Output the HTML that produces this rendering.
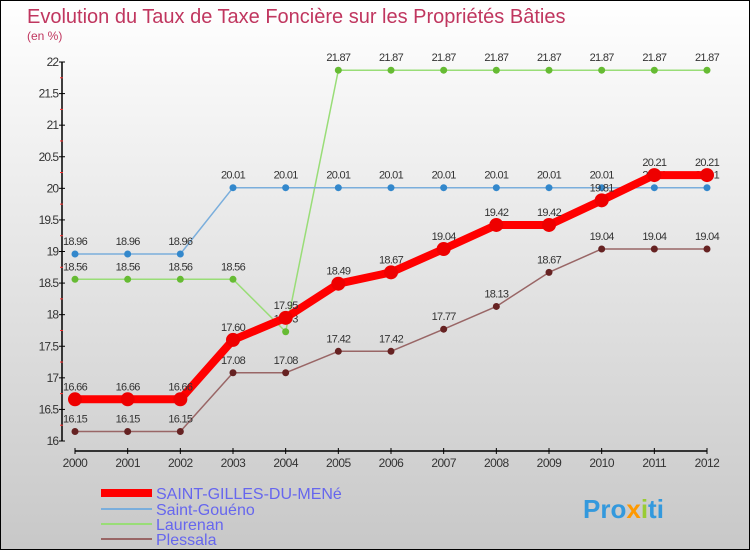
<!DOCTYPE html>
<html><head><meta charset="utf-8"><style>
html,body{margin:0;padding:0}
body{width:750px;height:550px;overflow:hidden;font-family:"Liberation Sans","DejaVu Sans",sans-serif}
#wrap{position:relative;width:748px;height:548px;border:1px solid #000;background:linear-gradient(#fff,#c8c8c8)}
</style></head><body>
<div id="wrap">
<svg id="chart" width="748" height="548" xmlns="http://www.w3.org/2000/svg">
<text x="26" y="22" font-size="20" fill="#c0365f">Evolution du Taux de Taxe Foncière sur les Propriétés Bâties</text>
<text x="26" y="39" font-size="12" fill="#c0365f">(en %)</text>
<g id="axes"></g><g id="series"></g>
<g>
<line x1="100" y1="492" x2="151" y2="492" stroke="#f00" stroke-width="8"/>
<text x="155" y="498" font-size="16" fill="#6666ee">SAINT-GILLES-DU-MENé</text>
<line x1="100" y1="508" x2="151" y2="508" stroke="#7aaedc" stroke-width="2"/>
<text x="155" y="514" font-size="16" fill="#6666ee">Saint-Gouéno</text>
<line x1="100" y1="523" x2="151" y2="523" stroke="#99dd77" stroke-width="2"/>
<text x="155" y="529" font-size="16" fill="#6666ee">Laurenan</text>
<line x1="100" y1="538" x2="151" y2="538" stroke="#996666" stroke-width="2"/>
<text x="155" y="544" font-size="16" fill="#6666ee">Plessala</text>
</g>
<text x="582" y="517" font-size="26" font-weight="bold" fill="#3399dd">Pro<tspan fill="#ff9900">x</tspan><tspan fill="#99cc33">i</tspan>ti</text>
</svg>
</div>
<script>
const years=[2000,2001,2002,2003,2004,2005,2006,2007,2008,2009,2010,2011,2012];
const yTicks=[16,16.5,17,17.5,18,18.5,19,19.5,20,20.5,21,21.5,22];
const saintGilles=[16.66,16.66,16.66,17.6,17.95,18.49,18.67,19.04,19.42,19.42,19.81,20.21,20.21];
const saintGoueno=[18.96,18.96,18.96,20.01,20.01,20.01,20.01,20.01,20.01,20.01,20.01,20.01,20.01];
const laurenan=[18.56,18.56,18.56,18.56,17.73,21.87,21.87,21.87,21.87,21.87,21.87,21.87,21.87];
const plessala=[16.15,16.15,16.15,17.08,17.08,17.42,17.42,17.77,18.13,18.67,19.04,19.04,19.04];
const NS="http://www.w3.org/2000/svg";
const X=i=>74+i*(706-74)/(years.length-1);
const Y=v=>440-(v-16)*(440-61)/6;
function mk(tag,attrs,parent){const e=document.createElementNS(NS,tag);for(const k in attrs)e.setAttribute(k,attrs[k]);parent.appendChild(e);return e;}
const ax=document.getElementById('axes');
let e=mk('line',{x1:61,y1:Y(22),x2:61,y2:Y(16),stroke:'#000','stroke-width':1.5},ax);


e=mk('line',{x1:74,y1:450,x2:706,y2:450,stroke:'#000','stroke-width':1.5},ax);


yTicks.forEach((t,i)=>{
 mk('line',{x1:58,y1:Y(t),x2:64,y2:Y(t),stroke:'#000'},ax);
 if(i<yTicks.length-1){mk('line',{x1:59,y1:Y(t+0.25),x2:62,y2:Y(t+0.25),stroke:'#f33'},ax);}
 const tx=mk('text',{x:57,y:Y(t)+4,'font-size':12,'text-anchor':'end',fill:'#333','letter-spacing':'-1'},ax);
 tx.textContent=String(t);
 
 
});
years.forEach((y,i)=>{
 mk('line',{x1:X(i),y1:447,x2:X(i),y2:453,stroke:'#000'},ax);
 const tx=mk('text',{x:X(i),y:466,'font-size':12,'text-anchor':'middle',fill:'#333','letter-spacing':'-0.5'},ax);
 tx.textContent=String(y);
 
 
});
const sg=document.getElementById('series');
function draw(vals,color,dot,w,r,name){
 const g=mk('g',{},sg);
 
 
 const pl=mk('polyline',{points:vals.map((v,i)=>X(i)+','+Y(v)).join(' '),fill:'none',stroke:color,'stroke-width':w,'stroke-linejoin':'round'},g);
 
 
 vals.forEach((v,i)=>{
  const c=mk('circle',{cx:X(i),cy:Y(v),r:r,fill:dot},g);
  
  
  const t=mk('text',{x:X(i),y:Y(v)-9,'font-size':11,'text-anchor':'middle',fill:'#333','letter-spacing':'-0.7'},g);
  t.textContent=v.toFixed(2);
  
  
 });
}
draw(laurenan,'#99dd77','#66bb33',1.5,3.5,'laurenan');
draw(saintGoueno,'#7aaedc','#3388cc',1.5,3.5,'saint-goueno');
draw(plessala,'#996666','#662222',1.5,3.5,'plessala');
draw(saintGilles,'#f00','#e00',8,7,'saint-gilles');
</script>
</body></html>
